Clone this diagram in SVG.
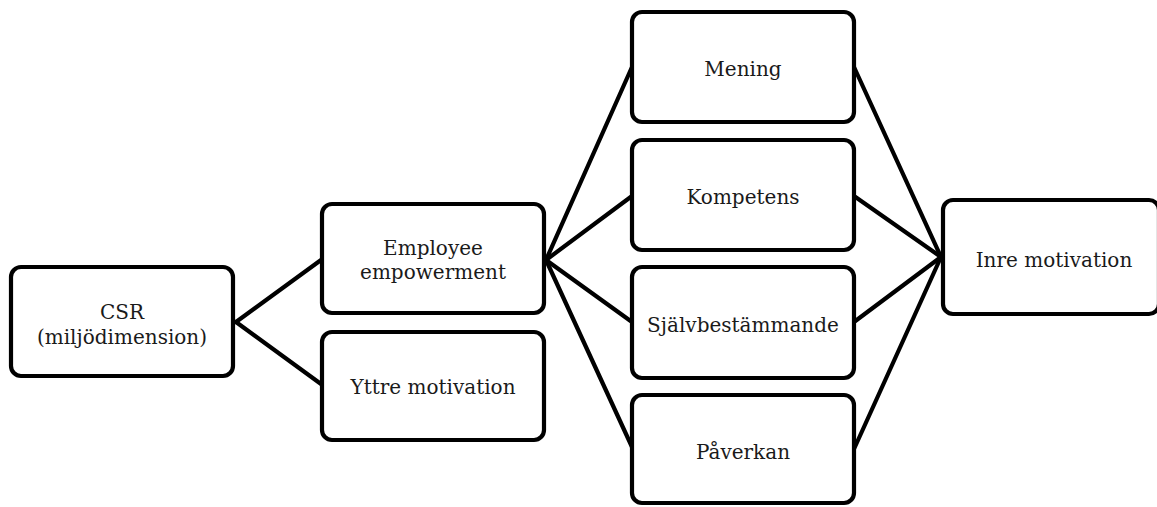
<svg xmlns="http://www.w3.org/2000/svg" width="1157" height="507" viewBox="0 0 1157 507">
<style>
.box{fill:#fff;stroke:#000;stroke-width:4.2}
.lbl{font-family:"DejaVu Serif","Liberation Serif",serif;font-size:20px;fill:#1a1a1a;text-anchor:middle}
.conn line{stroke:#000;stroke-width:4.2;stroke-linecap:round}
</style>
<rect width="1157" height="507" fill="#fff"/>
<g class="conn" id="connectors">
<line x1="236" y1="322" x2="321" y2="260"/>
<line x1="236" y1="322" x2="321" y2="384"/>
<line x1="546" y1="260" x2="632" y2="67"/>
<line x1="546" y1="260" x2="632" y2="196"/>
<line x1="546" y1="260" x2="632" y2="322"/>
<line x1="546" y1="260" x2="632" y2="447"/>
<line x1="854" y1="67" x2="941" y2="257"/>
<line x1="854" y1="196" x2="941" y2="257"/>
<line x1="854" y1="322" x2="941" y2="257"/>
<line x1="854" y1="449" x2="941" y2="257"/>
</g>
<g id="csr">
<rect class="box" x="11" y="267" width="222" height="109" rx="10"/>
<text class="lbl" x="122" y="319">CSR</text>
<text class="lbl" x="122" y="344">(miljödimension)</text>
</g>
<g id="employee">
<rect class="box" x="322" y="204" width="222" height="109" rx="10"/>
<text class="lbl" x="433" y="255">Employee</text>
<text class="lbl" x="433" y="279">empowerment</text>
</g>
<g id="yttre">
<rect class="box" x="322" y="332" width="222" height="108" rx="10"/>
<text class="lbl" x="433" y="394">Yttre motivation</text>
</g>
<g id="mening">
<rect class="box" x="632" y="12" width="222" height="110" rx="10"/>
<text class="lbl" x="743" y="76">Mening</text>
</g>
<g id="kompetens">
<rect class="box" x="632" y="140" width="222" height="110" rx="10"/>
<text class="lbl" x="743" y="204">Kompetens</text>
</g>
<g id="sjalv">
<rect class="box" x="632" y="267" width="222" height="111" rx="10"/>
<text class="lbl" x="743" y="332">Självbestämmande</text>
</g>
<g id="paverkan">
<rect class="box" x="632" y="395" width="222" height="108" rx="10"/>
<text class="lbl" x="743" y="459">Påverkan</text>
</g>
<g id="inre">
<rect class="box" x="943" y="200" width="216" height="114" rx="10"/>
<text class="lbl" x="1054" y="267">Inre motivation</text>
</g>
</svg>
